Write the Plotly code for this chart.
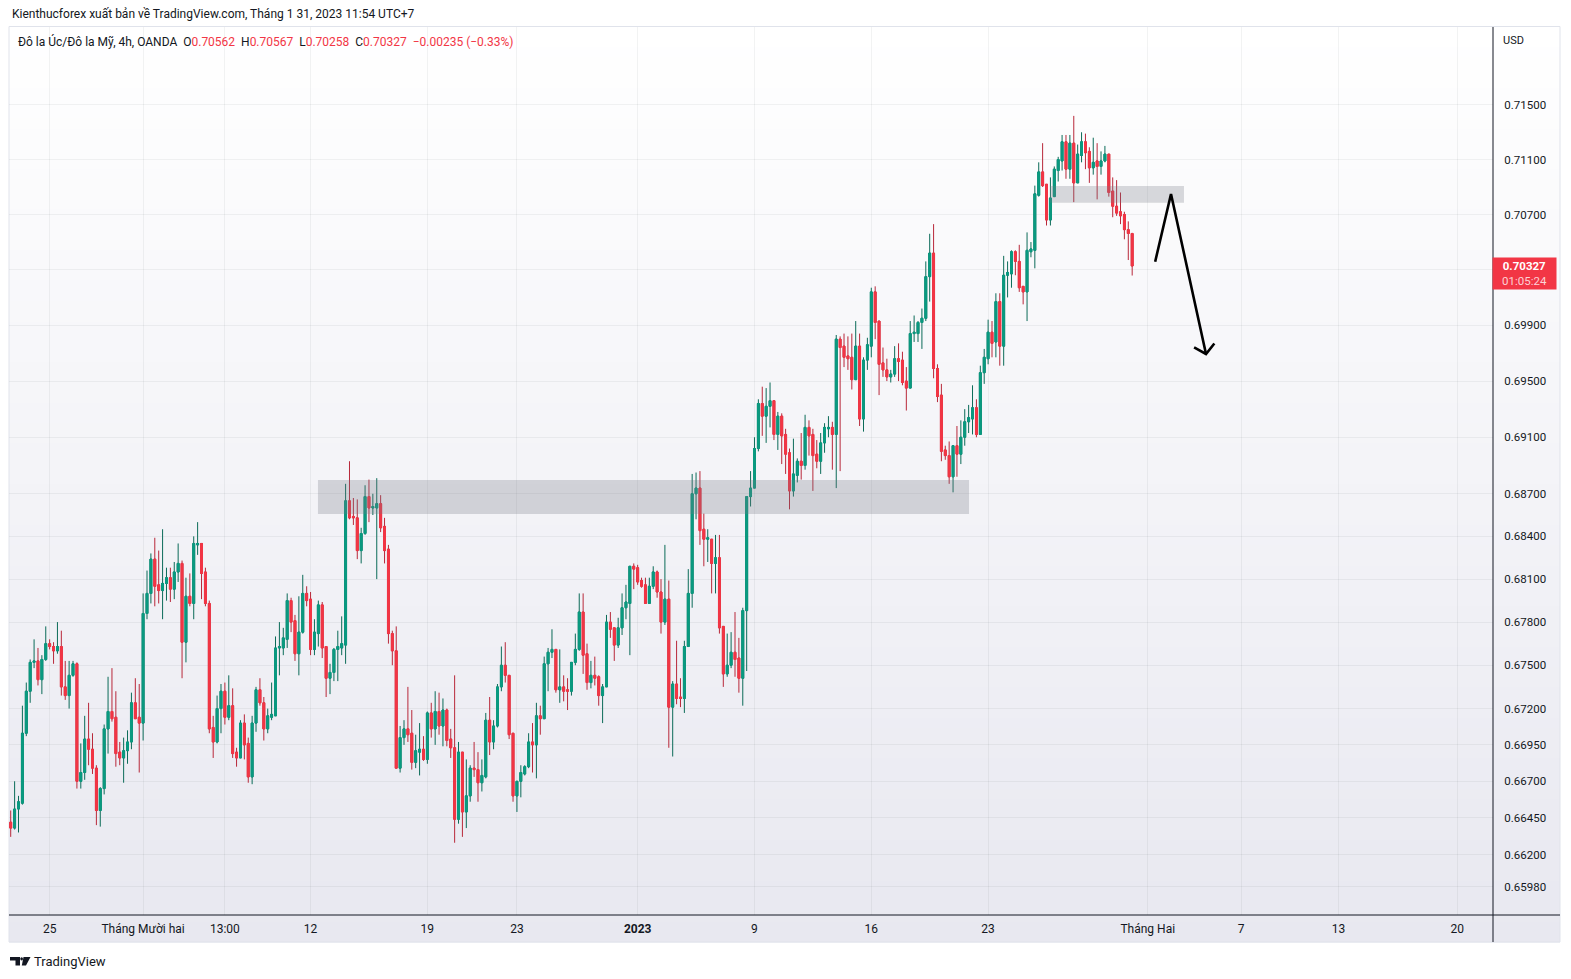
import math
import plotly.graph_objects as go

# ---------------- data (AUD/USD, 4h, OANDA) ----------------
opens = [0.6642,0.6638,0.6651,0.6655,0.6703,0.6732,0.6752,0.6753,0.6740,0.6754,
0.6765,0.6763,0.6760,0.6763,0.6735,0.6729,0.6743,0.6751,0.6670,0.6676,
0.6699,0.6692,0.6679,0.6650,0.6665,0.6706,0.6718,0.6714,0.6690,0.6686,
0.6691,0.6697,0.6724,0.6714,0.6710,0.6786,0.6800,0.6824,0.6806,0.6802,
0.6807,0.6811,0.6803,0.6815,0.6821,0.6766,0.6798,0.6793,0.6834,0.6835,
0.6815,0.6793,0.6707,0.6697,0.6720,0.6732,0.6714,0.6722,0.6690,0.6686,
0.6710,0.6696,0.6673,0.6710,0.6733,0.6724,0.6706,0.6714,0.6715,0.6762,
0.6762,0.6768,0.6795,0.6781,0.6758,0.6773,0.6800,0.6796,0.6761,0.6772,
0.6792,0.6763,0.6741,0.6745,0.6761,0.6762,0.6764,0.6865,0.6854,0.6853,
0.6830,0.6842,0.6868,0.6860,0.6860,0.6863,0.6847,0.6831,0.6772,0.6760,
0.6679,0.6700,0.6706,0.6703,0.6683,0.6690,0.6692,0.6685,0.6717,0.6706,
0.6718,0.6708,0.6719,0.6699,0.6693,0.6644,0.6690,0.6649,0.6660,0.6679,
0.6678,0.6669,0.6673,0.6712,0.6697,0.6708,0.6735,0.6750,0.6743,0.6703,
0.6660,0.6670,0.6675,0.6680,0.6697,0.6695,0.6715,0.6713,0.6751,0.6759,
0.6761,0.6733,0.6735,0.6733,0.6732,0.6752,0.6761,0.6787,0.6758,0.6738,
0.6743,0.6742,0.6729,0.6735,0.6780,0.6776,0.6764,0.6776,0.6790,0.6793,
0.6819,0.6818,0.6809,0.6806,0.6793,0.6805,0.6815,0.6801,0.6780,0.6796,
0.6721,0.6737,0.6728,0.6727,0.6763,0.6800,0.6870,0.6874,0.6845,0.6838,
0.6838,0.6821,0.6825,0.6777,0.6744,0.6750,0.6759,0.6755,0.6741,0.6788,
0.6868,0.6874,0.6902,0.6934,0.6925,0.6932,0.6936,0.6912,0.6925,0.6912,
0.6899,0.6872,0.6883,0.6893,0.6890,0.6917,0.6912,0.6898,0.6893,0.6906,
0.6916,0.6917,0.6912,0.6980,0.6975,0.6968,0.6967,0.6951,0.6975,0.6923,
0.6965,0.6975,0.7014,0.6993,0.6963,0.6958,0.6953,0.6955,0.6966,0.6965,
0.6950,0.6945,0.6984,0.6984,0.6992,0.6995,0.7025,0.7042,0.6959,0.6940,
0.6901,0.6897,0.6882,0.6904,0.6898,0.6910,0.6921,0.6923,0.6931,0.6912,
0.6956,0.6966,0.6985,0.6978,0.7007,0.6975,0.7026,0.7027,0.7043,0.7036,
0.7018,0.7014,0.7043,0.7044,0.7084,0.7101,0.7092,0.7066,0.7083,0.7102,
0.7109,0.7123,0.7103,0.7122,0.7093,0.7113,0.7123,0.7116,0.7104,0.7109,
0.7105,0.7109,0.7114,0.7087,0.7076,0.7072,0.7070,0.7059,0.70562]

highs = [0.6650,0.6670,0.6660,0.6722,0.6738,0.6754,0.6768,0.6762,0.6757,0.6777,
0.6768,0.6766,0.6780,0.6774,0.6753,0.6753,0.6753,0.6752,0.6696,0.6715,
0.6724,0.6703,0.6681,0.6666,0.6709,0.6742,0.6748,0.6732,0.6697,0.6700,
0.6705,0.6731,0.6741,0.6737,0.6800,0.6816,0.6828,0.6839,0.6830,0.6845,
0.6818,0.6818,0.6822,0.6835,0.6823,0.6811,0.6814,0.6840,0.6850,0.6835,
0.6818,0.6795,0.6715,0.6729,0.6737,0.6738,0.6743,0.6734,0.6693,0.6712,
0.6716,0.6700,0.6715,0.6735,0.6741,0.6728,0.6720,0.6738,0.6770,0.6780,
0.6776,0.6800,0.6797,0.6785,0.6798,0.6813,0.6805,0.6801,0.6782,0.6795,
0.6794,0.6763,0.6751,0.6762,0.6774,0.6784,0.6877,0.6893,0.6867,0.6866,
0.6846,0.6876,0.6880,0.6870,0.6881,0.6869,0.6853,0.6834,0.6774,0.6777,
0.6708,0.6712,0.6735,0.6719,0.6702,0.6710,0.6701,0.6718,0.6724,0.6732,
0.6731,0.6727,0.6720,0.6706,0.6743,0.6697,0.6690,0.6685,0.6681,0.6697,
0.6690,0.6685,0.6717,0.6728,0.6712,0.6737,0.6763,0.6766,0.6743,0.6703,
0.6670,0.6681,0.6681,0.6703,0.6710,0.6724,0.6722,0.6756,0.6762,0.6775,
0.6761,0.6761,0.6743,0.6741,0.6752,0.6772,0.6800,0.6800,0.6765,0.6753,
0.6756,0.6743,0.6737,0.6785,0.6787,0.6776,0.6783,0.6800,0.6806,0.6819,
0.6821,0.6820,0.6811,0.6811,0.6811,0.6819,0.6816,0.6810,0.6834,0.6809,
0.6739,0.6767,0.6741,0.6767,0.6817,0.6884,0.6885,0.6886,0.6856,0.6845,
0.6838,0.6841,0.6841,0.6777,0.6772,0.6773,0.6787,0.6769,0.6790,0.6868,
0.6886,0.6910,0.6937,0.6946,0.6945,0.6949,0.6936,0.6928,0.6927,0.6916,
0.6902,0.6909,0.6895,0.6913,0.6926,0.6922,0.6916,0.6908,0.6913,0.6920,
0.6925,0.6921,0.6983,0.6982,0.6984,0.6982,0.6984,0.6993,0.6984,0.6967,
0.6981,0.7017,0.7018,0.6993,0.6974,0.6966,0.6958,0.6975,0.6977,0.6971,
0.6960,0.6993,0.6997,0.6993,0.7002,0.7036,0.7056,0.7063,0.6962,0.6948,
0.6904,0.6907,0.6904,0.6918,0.6922,0.6930,0.6933,0.6947,0.6937,0.6961,
0.6973,0.6994,0.6993,0.7013,0.7013,0.7040,0.7036,0.7044,0.7044,0.7048,
0.7018,0.7057,0.7050,0.7091,0.7108,0.7122,0.7092,0.7097,0.7105,0.7112,
0.7128,0.7128,0.7128,0.7142,0.7121,0.7130,0.7129,0.7119,0.7126,0.7122,
0.7116,0.7120,0.7114,0.7097,0.7095,0.7086,0.7072,0.7065,0.70567]

lows = [0.6632,0.6637,0.6635,0.6654,0.6701,0.6724,0.6748,0.6736,0.6730,0.6753,
0.6761,0.6751,0.6758,0.6729,0.6726,0.6720,0.6742,0.6665,0.6665,0.6671,
0.6681,0.6675,0.6640,0.6639,0.6661,0.6689,0.6711,0.6680,0.6681,0.6669,
0.6682,0.6692,0.6713,0.6676,0.6698,0.6782,0.6793,0.6791,0.6793,0.6782,
0.6795,0.6794,0.6796,0.6808,0.6741,0.6752,0.6791,0.6782,0.6827,0.6796,
0.6791,0.6703,0.6686,0.6696,0.6703,0.6709,0.6712,0.6686,0.6680,0.6686,
0.6685,0.6669,0.6668,0.6704,0.6722,0.6698,0.6703,0.6712,0.6715,0.6743,
0.6757,0.6762,0.6773,0.6753,0.6743,0.6772,0.6791,0.6757,0.6757,0.6763,
0.6755,0.6728,0.6730,0.6739,0.6739,0.6757,0.6751,0.6852,0.6848,0.6824,
0.6821,0.6841,0.6850,0.6855,0.6810,0.6843,0.6821,0.6765,0.6750,0.6679,
0.6676,0.6695,0.6697,0.6678,0.6679,0.6674,0.6684,0.6682,0.6700,0.6695,
0.6702,0.6694,0.6694,0.6686,0.6628,0.6641,0.6632,0.6638,0.6656,0.6673,
0.6656,0.6663,0.6672,0.6688,0.6692,0.6707,0.6732,0.6738,0.6699,0.6656,
0.6649,0.6659,0.6674,0.6679,0.6676,0.6672,0.6702,0.6713,0.6732,0.6755,
0.6731,0.6724,0.6725,0.6719,0.6729,0.6750,0.6760,0.6744,0.6733,0.6734,
0.6736,0.6722,0.6710,0.6735,0.6769,0.6753,0.6762,0.6771,0.6782,0.6757,
0.6803,0.6806,0.6804,0.6793,0.6793,0.6803,0.6797,0.6772,0.6778,0.6693,
0.6687,0.6723,0.6721,0.6717,0.6763,0.6790,0.6852,0.6834,0.6819,0.6822,
0.6800,0.6800,0.6772,0.6735,0.6742,0.6748,0.6742,0.6731,0.6722,0.6746,
0.6861,0.6874,0.6900,0.6911,0.6906,0.6917,0.6908,0.6901,0.6891,0.6884,
0.6859,0.6868,0.6878,0.6880,0.6887,0.6897,0.6872,0.6888,0.6884,0.6899,
0.6910,0.6887,0.6874,0.6886,0.6960,0.6958,0.6944,0.6951,0.6918,0.6914,
0.6958,0.6967,0.6980,0.6940,0.6953,0.6950,0.6949,0.6953,0.6950,0.6947,
0.6929,0.6945,0.6978,0.6978,0.6973,0.6993,0.7007,0.6952,0.6935,0.6893,
0.6894,0.6877,0.6871,0.6882,0.6891,0.6904,0.6913,0.6912,0.6910,0.6912,
0.6948,0.6962,0.6967,0.6967,0.6961,0.6961,0.7010,0.7017,0.7026,0.7014,
0.7005,0.6993,0.7039,0.7031,0.7083,0.7090,0.7062,0.7062,0.7083,0.7094,
0.7102,0.7096,0.7096,0.7079,0.7093,0.7108,0.7103,0.7093,0.7099,0.7081,
0.7099,0.7108,0.7083,0.7068,0.7069,0.7063,0.7052,0.7037,0.70258]

closes = [0.6638,0.6651,0.6656,0.6703,0.6732,0.6752,0.6753,0.6740,0.6754,0.6765,
0.6763,0.6760,0.6763,0.6735,0.6729,0.6743,0.6751,0.6670,0.6676,0.6699,
0.6692,0.6679,0.6650,0.6665,0.6706,0.6718,0.6713,0.6689,0.6686,0.6691,
0.6697,0.6724,0.6713,0.6710,0.6786,0.6800,0.6824,0.6805,0.6802,0.6807,
0.6811,0.6803,0.6815,0.6821,0.6766,0.6798,0.6793,0.6835,0.6835,0.6814,
0.6793,0.6706,0.6697,0.6720,0.6732,0.6714,0.6722,0.6689,0.6686,0.6710,
0.6695,0.6673,0.6710,0.6733,0.6724,0.6706,0.6715,0.6716,0.6762,0.6763,
0.6769,0.6795,0.6780,0.6758,0.6773,0.6800,0.6795,0.6761,0.6773,0.6792,
0.6762,0.6741,0.6745,0.6761,0.6763,0.6765,0.6865,0.6853,0.6853,0.6830,
0.6842,0.6868,0.6860,0.6861,0.6863,0.6846,0.6830,0.6772,0.6760,0.6679,
0.6700,0.6706,0.6702,0.6683,0.6691,0.6692,0.6685,0.6717,0.6706,0.6718,
0.6708,0.6719,0.6698,0.6693,0.6644,0.6690,0.6649,0.6660,0.6679,0.6678,
0.6669,0.6674,0.6712,0.6697,0.6708,0.6735,0.6750,0.6743,0.6702,0.6660,
0.6670,0.6676,0.6680,0.6697,0.6695,0.6715,0.6713,0.6751,0.6759,0.6761,
0.6733,0.6735,0.6732,0.6732,0.6752,0.6761,0.6787,0.6757,0.6738,0.6743,
0.6741,0.6729,0.6735,0.6780,0.6775,0.6764,0.6776,0.6790,0.6794,0.6819,
0.6817,0.6808,0.6805,0.6793,0.6805,0.6815,0.6801,0.6780,0.6796,0.6721,
0.6737,0.6727,0.6727,0.6763,0.6800,0.6870,0.6874,0.6844,0.6838,0.6839,
0.6821,0.6825,0.6776,0.6744,0.6750,0.6759,0.6754,0.6741,0.6788,0.6868,
0.6874,0.6902,0.6934,0.6925,0.6932,0.6936,0.6912,0.6925,0.6911,0.6898,
0.6872,0.6884,0.6893,0.6890,0.6917,0.6911,0.6897,0.6893,0.6906,0.6917,
0.6917,0.6912,0.6980,0.6974,0.6967,0.6966,0.6951,0.6975,0.6923,0.6965,
0.6976,0.7014,0.6992,0.6962,0.6958,0.6953,0.6955,0.6966,0.6964,0.6949,
0.6945,0.6984,0.6985,0.6992,0.6995,0.7025,0.7042,0.6959,0.6939,0.6900,
0.6897,0.6882,0.6904,0.6898,0.6910,0.6921,0.6924,0.6931,0.6912,0.6956,
0.6967,0.6985,0.6977,0.7007,0.6975,0.7026,0.7028,0.7043,0.7036,0.7017,
0.7014,0.7044,0.7045,0.7085,0.7101,0.7091,0.7066,0.7082,0.7103,0.7110,
0.7123,0.7103,0.7122,0.7093,0.7114,0.7123,0.7115,0.7104,0.7108,0.7105,
0.7109,0.7114,0.7086,0.7076,0.7071,0.7069,0.7059,0.70562,0.70327]

bars = list(range(len(opens)))

# time axis labels (positioned on bar index)
date_tick_bars = [10, 34, 55, 77, 107, 130, 161, 191, 221, 251, 292, 316, 341, 371.5]
date_tick_labels = ["25", "Tháng Mười hai", "13:00", "12", "19", "23", "<b>2023</b>",
                    "9", "16", "23", "Tháng Hai", "7", "13", "20"]

price_ticks = [0.715, 0.711, 0.707, 0.703, 0.699, 0.695, 0.691, 0.687, 0.684, 0.681,
               0.678, 0.675, 0.672, 0.6695, 0.667, 0.6645, 0.662, 0.6598]
price_hidden = [0.703]  # covered by the last-price label

# drawings (bar index, price)
zone_low_bars = [78.9, 246.1]
zone_low_prices = [0.68558, 0.68797]
zone_high_bars = [266.9, 301.3]
zone_high_prices = [0.70786, 0.70908]
arrow_bars = [293.9, 297.97, 306.96]
arrow_prices = [0.70358, 0.70849, 0.69694]
arrowhead_bars = [303.9, 306.96, 309.1]
arrowhead_prices = [0.69741, 0.69694, 0.69769]

# ---------------- styling ----------------
BODY_UP, BODY_DN = "#0a9a80", "#f23645"
WICK_UP, WICK_DN = "#0b6b58", "#b8283a"
TXT = "#131722"
FONT = "Roboto"

W, H = 1571, 979
ML, MR, MT, MB = 9, 78, 27, 64
PW, PH = W - ML - MR, H - MT - MB

def pxx(px):
    return (px - ML) / PW

def pxy(py):
    return (H - MB - py) / PH

fig = go.Figure()

# zones (under candles)
for bx, pr in [(zone_low_bars, zone_low_prices), (zone_high_bars, zone_high_prices)]:
    fig.add_trace(go.Scatter(
        x=[bx[0], bx[1], bx[1], bx[0], bx[0]],
        y=[pr[0], pr[0], pr[1], pr[1], pr[0]],
        mode="lines", fill="toself", fillcolor="rgba(120,123,134,0.28)",
        line=dict(width=0), hoverinfo="skip", showlegend=False))

# wicks
fig.add_trace(go.Candlestick(
    x=bars, open=opens, high=highs, low=lows, close=closes,
    increasing=dict(line=dict(color=WICK_UP, width=1), fillcolor=WICK_UP),
    decreasing=dict(line=dict(color=WICK_DN, width=1), fillcolor=WICK_DN),
    whiskerwidth=0, showlegend=False, hoverinfo="skip"))
# bodies
body_hi = [max(o, c) for o, c in zip(opens, closes)]
body_lo = [min(o, c) for o, c in zip(opens, closes)]
fig.add_trace(go.Candlestick(
    x=bars, open=opens, high=body_hi, low=body_lo, close=closes,
    increasing=dict(line=dict(color=BODY_UP, width=1), fillcolor=BODY_UP),
    decreasing=dict(line=dict(color=BODY_DN, width=1), fillcolor=BODY_DN),
    whiskerwidth=0, showlegend=False, hoverinfo="skip"))

# arrow drawing
fig.add_trace(go.Scatter(x=arrow_bars, y=arrow_prices, mode="lines",
                         line=dict(color="#000000", width=2.6), hoverinfo="skip", showlegend=False))
fig.add_trace(go.Scatter(x=arrowhead_bars, y=arrowhead_prices, mode="lines",
                         line=dict(color="#000000", width=2.6), hoverinfo="skip", showlegend=False))

# ---------------- background & frame ----------------
shapes = []
top_c = (255, 255, 255)
bot_c = (232, 232, 240)
g_top, g_bot = 27, 942
N = 90
for k in range(N):
    y0 = g_top + (g_bot - g_top) * k / N
    y1 = g_top + (g_bot - g_top) * (k + 1) / N
    t = (k + 0.5) / N
    col = "rgb(%d,%d,%d)" % tuple(round(a + (b - a) * t) for a, b in zip(top_c, bot_c))
    shapes.append(dict(type="rect", xref="paper", yref="paper", layer="below",
                       x0=pxx(9), x1=pxx(1560), y0=pxy(y1) - 0.0005, y1=pxy(y0) + 0.0005,
                       fillcolor=col, line=dict(width=0)))
# pane border
shapes.append(dict(type="rect", xref="paper", yref="paper", layer="below",
                   x0=pxx(9), x1=pxx(1560), y0=pxy(942), y1=pxy(26.5),
                   fillcolor="rgba(0,0,0,0)", line=dict(color="#e0e3eb", width=1)))
# axis lines
shapes.append(dict(type="line", xref="paper", yref="paper", layer="above",
                   x0=pxx(9), x1=pxx(1560), y0=pxy(915), y1=pxy(915),
                   line=dict(color="#131722", width=1)))
shapes.append(dict(type="line", xref="paper", yref="paper", layer="above",
                   x0=pxx(1493), x1=pxx(1493), y0=pxy(942), y1=pxy(27),
                   line=dict(color="#131722", width=1)))
# TradingView logo glyph
def ppath(pts):
    return "M" + " L".join("%f,%f" % (pxx(x), pxy(y)) for x, y in pts) + " Z"
shapes.append(dict(type="path", xref="paper", yref="paper",
                   path=ppath([(10, 957), (20, 957), (20, 965.5), (15.5, 965.5), (15.5, 960.5), (10, 960.5)]),
                   fillcolor=TXT, line=dict(width=0)))
shapes.append(dict(type="circle", xref="paper", yref="paper",
                   x0=pxx(20.3), x1=pxx(23.0), y0=pxy(960.4), y1=pxy(957.3),
                   fillcolor=TXT, line=dict(width=0)))
shapes.append(dict(type="path", xref="paper", yref="paper",
                   path=ppath([(23.5, 957), (30.5, 957), (26, 965.5), (21.8, 965.5)]),
                   fillcolor=TXT, line=dict(width=0)))

# ---------------- texts ----------------
RED = "#f23645"
def red(s):
    return '<span style="color:%s">%s</span>' % (RED, s)

chg = closes[-1] - closes[-2]
pct = chg / closes[-2] * 100
sp = "\u00a0\u00a0"
legend_txt = ("Đô la Úc/Đô la Mỹ, 4h, OANDA" + sp +
              "O" + red("%.5f" % opens[-1]) + sp +
              "H" + red("%.5f" % highs[-1]) + sp +
              "L" + red("%.5f" % lows[-1]) + sp +
              "C" + red("%.5f" % closes[-1]) + sp +
              red(("%.5f" % chg).replace("-", "−") + " (" + ("%.2f%%" % pct).replace("-", "−") + ")"))

annotations = [
    dict(text="Kienthucforex xuất bản về TradingView.com, Tháng 1 31, 2023 11:54 UTC+7",
         xref="paper", yref="paper", x=pxx(10), y=pxy(14), xanchor="left", yanchor="middle",
         showarrow=False, font=dict(family=FONT, size=12, color=TXT)),
    dict(text=legend_txt, xref="paper", yref="paper", x=pxx(16), y=pxy(42),
         xanchor="left", yanchor="middle", showarrow=False,
         font=dict(family=FONT, size=12, color=TXT)),
    dict(text="USD", xref="paper", yref="paper", x=pxx(1501), y=pxy(41),
         xanchor="left", yanchor="middle", showarrow=False,
         font=dict(family=FONT, size=11, color=TXT)),
    dict(text="TradingView", xref="paper", yref="paper", x=pxx(32), y=pxy(961),
         xanchor="left", yanchor="middle", showarrow=False,
         font=dict(family=FONT, size=13, color=TXT)),
    dict(text="<b>%.5f</b><br><span style=\"color:rgba(255,255,255,0.78)\">01:05:24</span>" % closes[-1],
         xref="paper", yref="y", x=pxx(1524.5), y=math.log10(closes[-1]), yshift=-8,
         xanchor="center", yanchor="middle", showarrow=False, align="center",
         bgcolor=RED, width=59, height=27, borderpad=2,
         font=dict(family=FONT, size=11.5, color="#ffffff")),
]

# ---------------- axes ----------------
p_top, p_bot = 0.720753, 0.657897
GRID = "rgba(42,46,57,0.06)"
fig.update_layout(
    width=W, height=H,
    margin=dict(l=ML, r=MR, t=MT, b=MB, pad=0),
    paper_bgcolor="#ffffff", plot_bgcolor="rgba(0,0,0,0)",
    showlegend=False, hovermode=False,
    shapes=shapes, annotations=annotations,
    xaxis=dict(range=[-0.44, 380.66], rangeslider=dict(visible=False),
               tickmode="array", tickvals=date_tick_bars, ticktext=date_tick_labels,
               showgrid=True, gridcolor=GRID, gridwidth=1, zeroline=False, showline=False,
               ticks="outside", ticklen=3, tickcolor="rgba(0,0,0,0)",
               tickfont=dict(family=FONT, size=12, color=TXT), fixedrange=True),
    yaxis=dict(type="log", side="right",
               range=[math.log10(p_bot), math.log10(p_top)],
               tickmode="array", tickvals=price_ticks,
               ticktext=["" if v in price_hidden else "%.5f" % v for v in price_ticks],
               showgrid=True, gridcolor=GRID, gridwidth=1, zeroline=False, showline=False,
               ticks="outside", ticklen=8, tickcolor="rgba(0,0,0,0)",
               tickfont=dict(family=FONT, size=11.5, color=TXT), fixedrange=True),
)

fig.write_html("out.html")
